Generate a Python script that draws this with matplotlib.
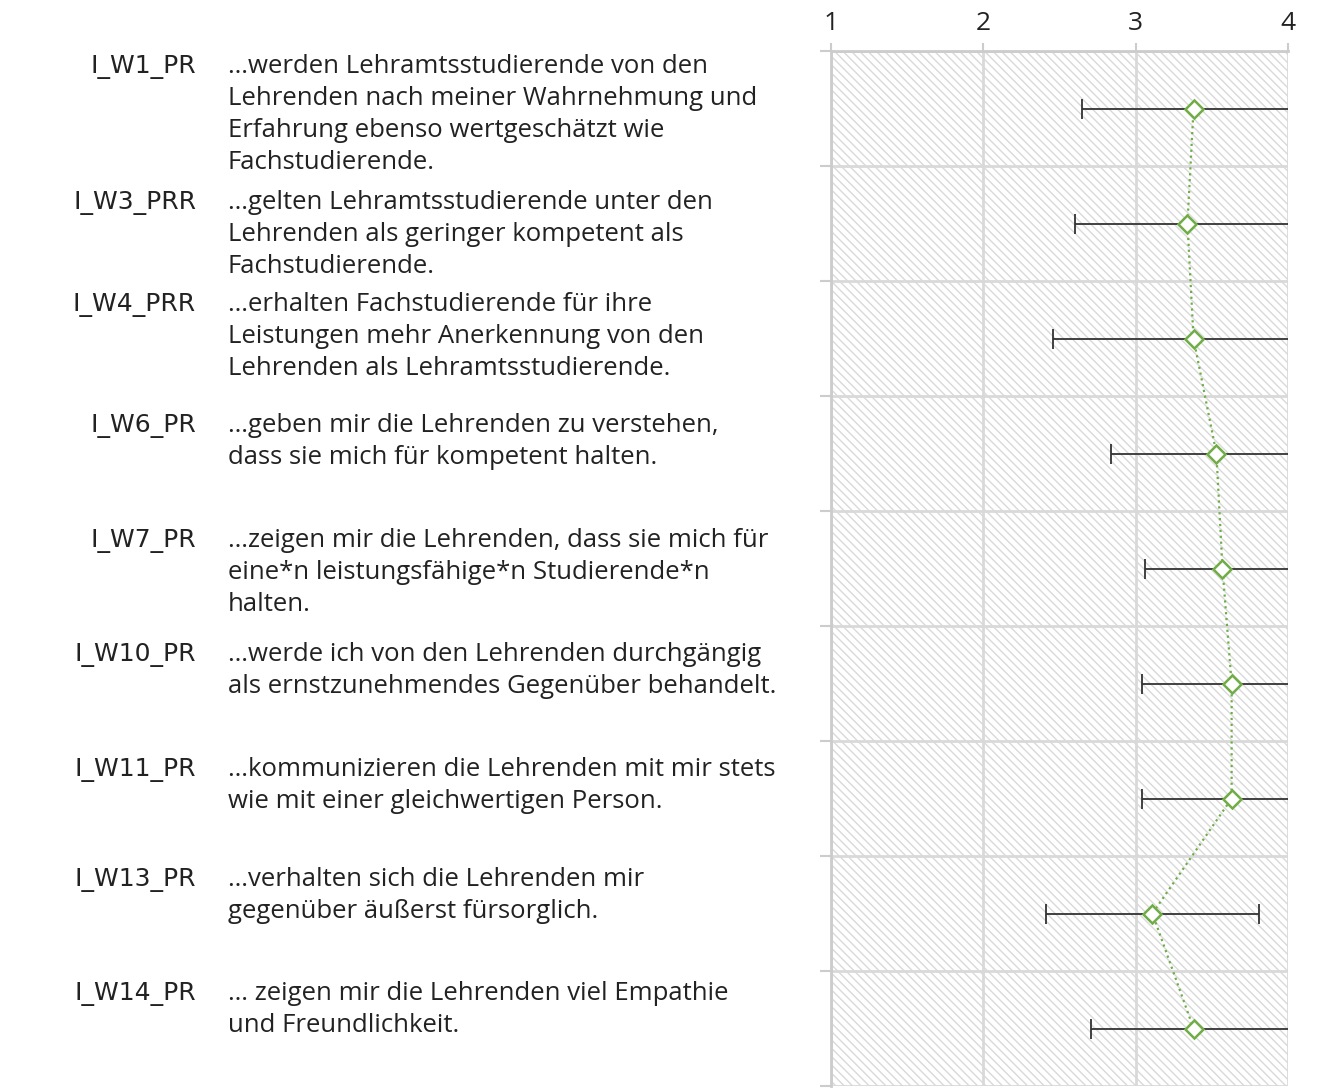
import numpy as np
import matplotlib
matplotlib.use("Agg")
import matplotlib.pyplot as plt

plt.rcParams['font.family'] = ['Open Sans', 'DejaVu Sans']
plt.rcParams['hatch.linewidth'] = 1.0
plt.rcParams['hatch.color'] = '#d9d9d9'

codes = ["I_W1_PR", "I_W3_PRR", "I_W4_PRR", "I_W6_PR", "I_W7_PR",
         "I_W10_PR", "I_W11_PR", "I_W13_PR", "I_W14_PR"]
items = [
    "…werden Lehramtsstudierende von den\nLehrenden nach meiner Wahrnehmung und\nErfahrung ebenso wertgeschätzt wie\nFachstudierende.",
    "…gelten Lehramtsstudierende unter den\nLehrenden als geringer kompetent als\nFachstudierende.",
    "…erhalten Fachstudierende für ihre\nLeistungen mehr Anerkennung von den\nLehrenden als Lehramtsstudierende.",
    "…geben mir die Lehrenden zu verstehen,\ndass sie mich für kompetent halten.",
    "…zeigen mir die Lehrenden, dass sie mich für\neine*n leistungsfähige*n Studierende*n\nhalten.",
    "…werde ich von den Lehrenden durchgängig\nals ernstzunehmendes Gegenüber behandelt.",
    "…kommunizieren die Lehrenden mit mir stets\nwie mit einer gleichwertigen Person.",
    "…verhalten sich die Lehrenden mir\ngegenüber äußerst fürsorglich.",
    "… zeigen mir die Lehrenden viel Empathie\nund Freundlichkeit.",
]
means = [3.38, 3.34, 3.38, 3.53, 3.57, 3.63, 3.63, 3.11, 3.38]
sds = [0.73, 0.74, 0.92, 0.69, 0.51, 0.59, 0.59, 0.70, 0.67]

# baseline of first text line per row, in pixels from top
text_base_px = [73, 209, 311, 432, 547, 661, 776, 886, 1000]
line_px = 32

W, H = 1326, 1090
fig = plt.figure(figsize=(W / 100, H / 100), dpi=100)
ax = fig.add_axes([831 / W, 1 - 1086 / H, (1288 - 831) / W, (1086 - 51) / H])

n = len(means)
y = np.arange(n)
ax.set_xlim(1, 4)
ax.set_ylim(n - 0.5, -0.5)

ax.axvspan(1, 4, facecolor='white', hatch='\\\\\\\\', edgecolor='#d9d9d9', linewidth=0, zorder=0)
for xv in [1, 2, 3, 4]:
    ax.axvline(xv, color='#d9d9d9', lw=2, zorder=1)
for yb in np.arange(n + 1) - 0.5:
    ax.axhline(yb, color='#d9d9d9', lw=2, zorder=1)

ax.errorbar(means, y, xerr=sds, fmt='none', ecolor='#333333', elinewidth=1.3,
            capsize=7, capthick=1.3, zorder=3)
ax.plot(means, y, linestyle=':', color='#70ad47', lw=1.6, zorder=4)
ax.plot(means, y, linestyle='none', marker='D', markersize=9, markerfacecolor='white',
        markeredgecolor='#70ad47', markeredgewidth=1.8, zorder=5)

ax.xaxis.tick_top()
ax.set_xticks([1, 2, 3, 4])
ax.tick_params(axis='x', length=6, width=1.5, color='#cccccc', labelsize=19,
               labelcolor='#222222', pad=5)
ax.set_yticks(np.arange(n + 1) - 0.5)
ax.set_yticklabels([])
ax.tick_params(axis='y', length=8, width=1.5, color='#cccccc')
for s in ['right', 'bottom']:
    ax.spines[s].set_visible(False)
for s in ['left', 'top']:
    ax.spines[s].set_color('#cccccc')
    ax.spines[s].set_linewidth(2)

for code, txt, bp in zip(codes, items, text_base_px):
    fig.text(196 / W, 1 - bp / H, code, ha='right', va='baseline', fontsize=18,
             color='#222222', family=['DejaVu Sans'])
    for k, line in enumerate(txt.split("\n")):
        fig.text(228 / W, 1 - (bp + k * line_px) / H, line, ha='left', va='baseline',
                 fontsize=18.5, color='#222222')

fig.savefig("out.png", dpi=100)
